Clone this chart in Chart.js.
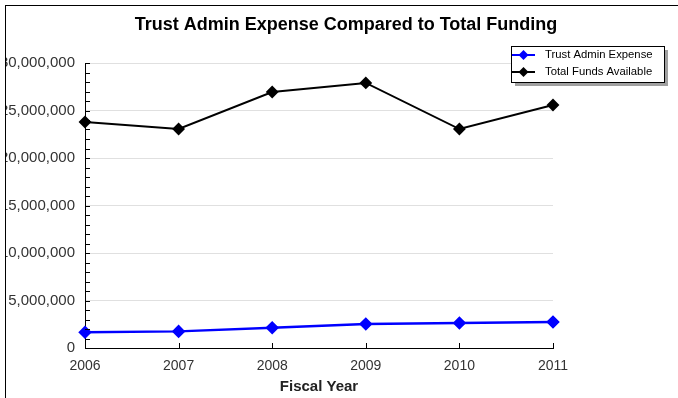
<!DOCTYPE html>
<html>
<head>
<meta charset="utf-8">
<script src="https://cdn.jsdelivr.net/npm/chart.js@4/dist/chart.umd.min.js"></script>
<style>
  body { margin: 0; background: #fff; }
  #frame { position: absolute; left: 5px; top: 5px; width: 673px; height: 393px;
           border-left: 1px solid #000; border-top: 1px solid #000; overflow: hidden; }
  canvas { display: block; }
</style>
</head>
<body>
<div id="frame"><canvas id="fundChart" width="680" height="392"></canvas></div>
<script>
const years = ["2006", "2007", "2008", "2009", "2010", "2011"];
const adminExpense = [1650000, 1750000, 2140000, 2530000, 2630000, 2740000];
const totalFunds = [23790000, 23050000, 26950000, 27900000, 23050000, 25580000];
const yTicks = [0, 5000000, 10000000, 15000000, 20000000, 25000000, 30000000];

const FONT = "'Liberation Sans', Arial, sans-serif";

// ticks drawn inward, minor every 1,000,000
const axisTicks = {
    id: "axisTicks",
    afterDatasetsDraw(chart) {
        const ctx = chart.ctx;
        const x = chart.scales.x, y = chart.scales.y;
        const area = chart.chartArea;
        ctx.save();
        ctx.strokeStyle = "#000";
        ctx.lineWidth = 1;
        ctx.beginPath();
        for (let v = 0; v <= 30000000; v += 1000000) {
            const py = Math.round(y.getPixelForValue(v)) + 0.5;
            ctx.moveTo(area.left, py);
            ctx.lineTo(area.left + 5, py);
        }
        years.forEach((yr, i) => {
            const px = Math.round(x.getPixelForValue(i)) + 0.5;
            ctx.moveTo(px, area.bottom);
            ctx.lineTo(px, area.bottom - 5);
        });
        ctx.stroke();
        ctx.restore();
    }
};

// floating legend box with shadow
const boxLegend = {
    id: "boxLegend",
    afterDraw(chart) {
        const ctx = chart.ctx;
        const left = 505, top = 40, w = 153, h = 36;
        ctx.save();
        ctx.fillStyle = "#a0a0a0";
        ctx.fillRect(left + 4, top + 4, w, h);
        ctx.fillStyle = "#fff";
        ctx.fillRect(left, top, w, h);
        ctx.strokeStyle = "#000";
        ctx.lineWidth = 1;
        ctx.strokeRect(left + 0.5, top + 0.5, w, h);
        chart.data.datasets.forEach((ds, i) => {
            const cy = top + 9 + i * 17;
            ctx.strokeStyle = ds.borderColor;
            ctx.lineWidth = 2;
            ctx.beginPath();
            ctx.moveTo(left + 1, cy);
            ctx.lineTo(left + 24, cy);
            ctx.stroke();
            ctx.fillStyle = ds.borderColor;
            ctx.beginPath();
            ctx.moveTo(left + 12.5, cy - 5);
            ctx.lineTo(left + 17.5, cy);
            ctx.lineTo(left + 12.5, cy + 5);
            ctx.lineTo(left + 7.5, cy);
            ctx.closePath();
            ctx.fill();
            ctx.fillStyle = "#000";
            ctx.font = "11.3px " + FONT;
            ctx.textBaseline = "middle";
            ctx.fillText(ds.label, left + 34, cy);
        });
        ctx.restore();
    }
};

new Chart(document.getElementById("fundChart"), {
    type: "line",
    data: {
        labels: years,
        datasets: [{
            label: "Trust Admin Expense",
            data: adminExpense,
            borderColor: "#0000ff",
            backgroundColor: "#0000ff",
            borderWidth: 2.5,
            pointStyle: "rectRot",
            pointRadius: 5,
            tension: 0
        }, {
            label: "Total Funds Available",
            data: totalFunds,
            borderColor: "#000000",
            backgroundColor: "#000000",
            borderWidth: 2,
            pointStyle: "rectRot",
            pointRadius: 5,
            tension: 0
        }]
    },
    options: {
        responsive: false,
        animation: false,
        layout: { padding: 0 },
        plugins: {
            legend: { display: false },
            tooltip: { enabled: false },
            title: {
                display: true,
                text: "Trust Admin Expense Compared to Total Funding",
                color: "#000",
                font: { family: FONT, size: 18, weight: "bold" },
                padding: { top: 8, bottom: 27.4 }
            }
        },
        scales: {
            x: {
                offset: false,
                grid: { display: false, drawTicks: false },
                border: { color: "#000", width: 1 },
                ticks: {
                    color: "#333",
                    padding: 10,
                    maxRotation: 0,
                    font: { family: FONT, size: 14 }
                },
                title: {
                    display: true,
                    text: "Fiscal Year",
                    color: "#222",
                    padding: { top: 0, bottom: 2 },
                    font: { family: FONT, size: 15, weight: "bold" }
                },
                afterFit(scale) { scale.height = 50; }
            },
            y: {
                min: 0,
                max: 30000000,
                afterBuildTicks(scale) { scale.ticks = yTicks.map(v => ({ value: v })); },
                grid: { color: "#e0e0e0", drawTicks: false },
                border: { color: "#000", width: 1 },
                ticks: {
                    color: "#333",
                    padding: 10,
                    font: { family: FONT, size: 15 },
                    callback: v => v.toLocaleString("en-US")
                },
                afterFit(scale) { scale.width = 79; }
            },
            // empty right-hand space, keeps the title centred on the whole canvas
            spacer: {
                type: "linear",
                position: "right",
                grid: { display: false },
                border: { display: false },
                ticks: { display: false },
                afterFit(scale) { scale.width = 133; }
            }
        }
    },
    plugins: [axisTicks, boxLegend]
});
</script>
</body>
</html>
